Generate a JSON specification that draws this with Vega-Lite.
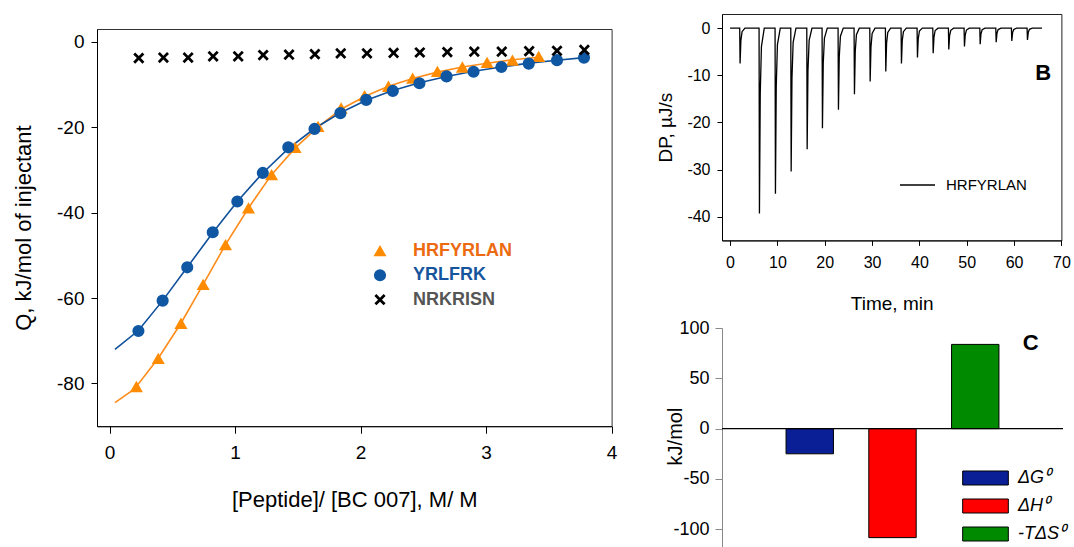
{
 "$schema": "https://vega.github.io/schema/vega-lite/v6.json",
 "padding": {"left": 12, "top": 13, "right": 0, "bottom": 0},
 "config": {
  "font": "Liberation Sans",
  "view": {"stroke": null},
  "axis": {"grid": false, "domainColor": "#000", "tickColor": "#000", "labelColor": "#000", "titleColor": "#000", "titleFontWeight": "normal", "labelFlush": false, "labelOverlap": false},
  "legend": {"padding": 0}
 },
 "datasets": {
  "pts": [
   {"s":"HRFYRLAN","x":0.214,"q":-80.7},{"s":"HRFYRLAN","x":0.388,"q":-74.1},{"s":"HRFYRLAN","x":0.569,"q":-65.9},{"s":"HRFYRLAN","x":0.746,"q":-56.8},{"s":"HRFYRLAN","x":0.924,"q":-47.5},{"s":"HRFYRLAN","x":1.107,"q":-38.9},{"s":"HRFYRLAN","x":1.291,"q":-31.1},{"s":"HRFYRLAN","x":1.478,"q":-24.7},{"s":"HRFYRLAN","x":1.661,"q":-19.8},{"s":"HRFYRLAN","x":1.845,"q":-15.5},{"s":"HRFYRLAN","x":2.032,"q":-12.6},{"s":"HRFYRLAN","x":2.222,"q":-10.4},{"s":"HRFYRLAN","x":2.415,"q":-8.5},{"s":"HRFYRLAN","x":2.612,"q":-6.9},{"s":"HRFYRLAN","x":2.811,"q":-5.9},{"s":"HRFYRLAN","x":3.008,"q":-4.8},{"s":"HRFYRLAN","x":3.21,"q":-4.3},{"s":"HRFYRLAN","x":3.419,"q":-3.4},
   {"s":"YRLFRK","x":0.23,"q":-67.7},{"s":"YRLFRK","x":0.423,"q":-60.6},{"s":"YRLFRK","x":0.619,"q":-52.8},{"s":"YRLFRK","x":0.822,"q":-44.6},{"s":"YRLFRK","x":1.018,"q":-37.4},{"s":"YRLFRK","x":1.221,"q":-30.7},{"s":"YRLFRK","x":1.424,"q":-24.7},{"s":"YRLFRK","x":1.633,"q":-20.4},{"s":"YRLFRK","x":1.839,"q":-16.7},{"s":"YRLFRK","x":2.045,"q":-13.6},{"s":"YRLFRK","x":2.257,"q":-11.5},{"s":"YRLFRK","x":2.469,"q":-9.7},{"s":"YRLFRK","x":2.685,"q":-8.1},{"s":"YRLFRK","x":2.9,"q":-7.0},{"s":"YRLFRK","x":3.122,"q":-5.9},{"s":"YRLFRK","x":3.34,"q":-5.1},{"s":"YRLFRK","x":3.565,"q":-4.3},{"s":"YRLFRK","x":3.78,"q":-3.7},
   {"s":"NRKRISN","x":0.233,"q":-3.8},{"s":"NRKRISN","x":0.429,"q":-3.7},{"s":"NRKRISN","x":0.626,"q":-3.7},{"s":"NRKRISN","x":0.825,"q":-3.4},{"s":"NRKRISN","x":1.025,"q":-3.4},{"s":"NRKRISN","x":1.224,"q":-3.1},{"s":"NRKRISN","x":1.43,"q":-3.0},{"s":"NRKRISN","x":1.636,"q":-2.9},{"s":"NRKRISN","x":1.842,"q":-2.7},{"s":"NRKRISN","x":2.051,"q":-2.7},{"s":"NRKRISN","x":2.263,"q":-2.6},{"s":"NRKRISN","x":2.472,"q":-2.5},{"s":"NRKRISN","x":2.691,"q":-2.4},{"s":"NRKRISN","x":2.906,"q":-2.3},{"s":"NRKRISN","x":3.125,"q":-2.3},{"s":"NRKRISN","x":3.343,"q":-2.2},{"s":"NRKRISN","x":3.565,"q":-2.1},{"s":"NRKRISN","x":3.783,"q":-1.9}
  ],
  "fitO": [
   {"x":0.043,"q":-84.5},{"x":0.163,"q":-82.0},{"x":0.214,"q":-80.7},{"x":0.388,"q":-74.1},{"x":0.569,"q":-65.9},{"x":0.746,"q":-56.8},{"x":0.924,"q":-47.5},{"x":1.107,"q":-38.9},{"x":1.291,"q":-31.1},{"x":1.478,"q":-24.9},{"x":1.661,"q":-19.9},{"x":1.845,"q":-15.8},{"x":2.032,"q":-12.8},{"x":2.222,"q":-10.4},{"x":2.415,"q":-8.6},{"x":2.612,"q":-7.1},{"x":2.811,"q":-5.9},{"x":3.008,"q":-5.0},{"x":3.21,"q":-4.2},{"x":3.419,"q":-3.6}
  ],
  "fitB": [
   {"x":0.043,"q":-72.0},{"x":0.23,"q":-67.6},{"x":0.423,"q":-60.6},{"x":0.619,"q":-52.8},{"x":0.822,"q":-44.7},{"x":1.018,"q":-37.4},{"x":1.221,"q":-30.7},{"x":1.424,"q":-25.0},{"x":1.633,"q":-20.3},{"x":1.839,"q":-16.6},{"x":2.045,"q":-13.7},{"x":2.257,"q":-11.4},{"x":2.469,"q":-9.6},{"x":2.685,"q":-8.1},{"x":2.9,"q":-6.9},{"x":3.122,"q":-5.9},{"x":3.34,"q":-5.0},{"x":3.565,"q":-4.3},{"x":3.78,"q":-3.7}
  ],
  "thermo": [
   {"t":0,"dp":0},
   {"t":2.04,"dp":0},{"t":2.12,"dp":-7.5},{"t":2.29,"dp":-2.6},{"t":2.54,"dp":-0.75},{"t":3.14,"dp":0},
   {"t":6.13,"dp":0},{"t":6.21,"dp":-39.3},{"t":6.38,"dp":-13.8},{"t":6.63,"dp":-3.9},{"t":7.23,"dp":0},
   {"t":9.51,"dp":0},{"t":9.59,"dp":-35.1},{"t":9.76,"dp":-12.3},{"t":10.01,"dp":-3.5},{"t":10.61,"dp":0},
   {"t":12.83,"dp":0},{"t":12.91,"dp":-30.4},{"t":13.08,"dp":-10.6},{"t":13.33,"dp":-3.0},{"t":13.93,"dp":0},
   {"t":16.21,"dp":0},{"t":16.29,"dp":-25.7},{"t":16.46,"dp":-9.0},{"t":16.71,"dp":-2.6},{"t":17.31,"dp":0},
   {"t":19.44,"dp":0},{"t":19.52,"dp":-21.2},{"t":19.69,"dp":-7.4},{"t":19.94,"dp":-2.1},{"t":20.54,"dp":0},
   {"t":22.82,"dp":0},{"t":22.9,"dp":-17.3},{"t":23.07,"dp":-6.1},{"t":23.32,"dp":-1.7},{"t":23.92,"dp":0},
   {"t":26.2,"dp":0},{"t":26.28,"dp":-14.0},{"t":26.45,"dp":-4.9},{"t":26.7,"dp":-1.4},{"t":27.3,"dp":0},
   {"t":29.52,"dp":0},{"t":29.6,"dp":-11.3},{"t":29.77,"dp":-4.0},{"t":30.02,"dp":-1.1},{"t":30.62,"dp":0},
   {"t":32.82,"dp":0},{"t":32.9,"dp":-9.2},{"t":33.07,"dp":-3.2},{"t":33.32,"dp":-0.9},{"t":33.92,"dp":0},
   {"t":36.13,"dp":0},{"t":36.21,"dp":-7.5},{"t":36.38,"dp":-2.6},{"t":36.63,"dp":-0.75},{"t":37.23,"dp":0},
   {"t":39.51,"dp":0},{"t":39.59,"dp":-6.2},{"t":39.76,"dp":-2.2},{"t":40.01,"dp":-0.6},{"t":40.61,"dp":0},
   {"t":42.83,"dp":0},{"t":42.91,"dp":-5.3},{"t":43.08,"dp":-1.9},{"t":43.33,"dp":-0.5},{"t":43.93,"dp":0},
   {"t":46.13,"dp":0},{"t":46.21,"dp":-4.5},{"t":46.38,"dp":-1.6},{"t":46.63,"dp":-0.45},{"t":47.23,"dp":0},
   {"t":49.44,"dp":0},{"t":49.52,"dp":-3.9},{"t":49.69,"dp":-1.4},{"t":49.94,"dp":-0.4},{"t":50.54,"dp":0},
   {"t":52.76,"dp":0},{"t":52.84,"dp":-3.4},{"t":53.01,"dp":-1.2},{"t":53.26,"dp":-0.35},{"t":53.86,"dp":0},
   {"t":56.14,"dp":0},{"t":56.22,"dp":-3.0},{"t":56.39,"dp":-1.05},{"t":56.64,"dp":-0.3},{"t":57.24,"dp":0},
   {"t":59.44,"dp":0},{"t":59.52,"dp":-2.7},{"t":59.69,"dp":-0.95},{"t":59.94,"dp":-0.27},{"t":60.54,"dp":0},
   {"t":62.75,"dp":0},{"t":62.83,"dp":-2.5},{"t":63.0,"dp":-0.9},{"t":63.25,"dp":-0.25},{"t":63.85,"dp":0},
   {"t":65.9,"dp":0}
  ],
  "energy": [
   {"k":"ΔG⁰","i":1,"v":-25.0},
   {"k":"ΔH⁰","i":2,"v":-108.3},
   {"k":"-TΔS⁰","i":3,"v":83.7}
  ]
 },
 "resolve": {"scale": {"color": "independent", "shape": "independent", "size": "independent"}, "legend": {"color": "independent", "shape": "independent"}},
 "hconcat": [
  {
   "bounds": "flush",
   "spacing": 0,
   "vconcat": [
    {"width": 514.6, "height": 15, "data": {"values": []}, "mark": "point", "encoding": {}},
    {
     "width": 514.6,
     "height": 397.2,
     "view": {"stroke": "#333"},
     "encoding": {
      "x": {"field": "x", "type": "quantitative", "scale": {"domain": [-0.1, 4], "nice": false, "zero": false},
            "axis": {"values": [0, 1, 2, 3, 4], "title": "[Peptide]/ [BC 007], M/ M", "labelFontSize": 19, "titleFontSize": 22, "tickSize": 7, "labelPadding": 10, "titlePadding": 27}},
      "y": {"field": "q", "type": "quantitative", "scale": {"domain": [-90, 3], "nice": false, "zero": false},
            "axis": {"values": [0, -20, -40, -60, -80], "labelExpr": "'' + datum.value", "title": "Q, kJ/mol of injectant", "labelFontSize": 19, "titleFontSize": 22, "tickSize": 6, "labelPadding": 7, "titlePadding": 21}}
     },
     "layer": [
      {"data": {"name": "fitO"}, "mark": {"type": "line", "color": "#FF8C1A", "strokeWidth": 1.6}},
      {"data": {"name": "fitB"}, "mark": {"type": "line", "color": "#10509A", "strokeWidth": 1.6}},
      {"data": {"name": "pts"},
       "mark": {"type": "point", "filled": true, "opacity": 1},
       "encoding": {
        "color": {"field": "s", "type": "nominal",
                  "scale": {"domain": ["HRFYRLAN", "YRLFRK", "NRKRISN"], "range": ["#FF8C00", "#0F57A3", "#000000"]},
                  "legend": {"orient": "none", "legendX": 274, "legendY": 227.7, "title": null, "symbolSize": 150, "symbolOpacity": 1,
                             "labelFontSize": 18, "labelFontWeight": "bold", "labelOffset": 24, "rowPadding": 6.5,
                             "encode": {"labels": {"update": {"fill": {"signal": "datum.value === 'HRFYRLAN' ? '#EC6A12' : datum.value === 'YRLFRK' ? '#16559E' : '#555555'"}}}}}},
        "shape": {"field": "s", "type": "nominal",
                  "scale": {"domain": ["HRFYRLAN", "YRLFRK", "NRKRISN"], "range": ["triangle-up", "circle", "M-1,-0.65L-0.65,-1L0,-0.35L0.65,-1L1,-0.65L0.35,0L1,0.65L0.65,1L0,0.35L-0.65,1L-1,0.65L-0.35,0Z"]}},
        "size": {"field": "s", "type": "nominal", "scale": {"domain": ["HRFYRLAN", "YRLFRK", "NRKRISN"], "range": [170, 125, 90]}, "legend": null}
       }},
      {"data": {"values": [{}]}, "mark": {"type": "text", "text": "A", "fontSize": 22, "fontWeight": "bold", "color": "#000"},
       "encoding": {"x": {"datum": 3.74, "type": "quantitative"}, "y": {"datum": -14.3, "type": "quantitative"}}}
     ]
    }
   ]
  },
  {
   "bounds": "flush",
   "spacing": 87,
   "resolve": {"scale": {"color": "independent"}, "legend": {"color": "independent"}},
   "vconcat": [
    {
     "width": 339.4,
     "height": 226.4,
     "view": {"stroke": "#222"},
     "layer": [
      {"data": {"name": "thermo"},
       "mark": {"type": "line", "strokeWidth": 1.3},
       "encoding": {
        "x": {"field": "t", "type": "quantitative", "scale": {"domain": [-1.7, 70], "nice": false, "zero": false},
              "axis": {"values": [0, 10, 20, 30, 40, 50, 60, 70], "title": "Time, min", "labelFontSize": 16, "titleFontSize": 19, "tickSize": 5, "labelPadding": 9, "titlePadding": 24}},
        "y": {"field": "dp", "type": "quantitative", "scale": {"domain": [-45, 3], "nice": false, "zero": false},
              "axis": {"values": [0, -10, -20, -30, -40], "labelExpr": "'' + datum.value", "title": "DP, µJ/s", "labelFontSize": 16, "titleFontSize": 19, "tickSize": 5, "labelPadding": 7, "titlePadding": 11}},
        "color": {"datum": "HRFYRLAN", "type": "nominal", "scale": {"range": ["#000000"]},
                  "legend": {"orient": "none", "legendX": 177, "legendY": 152.5, "title": null, "symbolType": "stroke", "symbolSize": 1225, "symbolStrokeWidth": 1.3, "labelFontSize": 15, "labelOffset": 10}}
       }},
      {"data": {"values": [{}]}, "mark": {"type": "text", "text": "B", "fontSize": 22, "fontWeight": "bold", "color": "#000"},
       "encoding": {"x": {"datum": 66.15, "type": "quantitative"}, "y": {"datum": -9.6, "type": "quantitative"}}}
     ]
    },
    {
     "width": 341,
     "height": 219.4,
     "layer": [
      {"data": {"name": "energy"},
       "mark": {"type": "bar", "orient": "vertical", "size": 47.4, "stroke": "#000", "strokeWidth": 1},
       "encoding": {
        "x": {"field": "i", "type": "quantitative", "scale": {"domain": [0, 4], "nice": false, "zero": false}, "axis": null},
        "y": {"field": "v", "type": "quantitative", "scale": {"domain": [-118, 100], "nice": false},
              "axis": {"values": [100, 50, 0, -50, -100], "labelExpr": "'' + datum.value", "title": "kJ/mol", "labelFontSize": 18, "titleFontSize": 20, "tickSize": 7, "labelPadding": 6, "domainColor": "#888", "tickColor": "#888", "titleX": -47, "titleY": 108, "titleBaseline": "middle"}},
        "color": {"field": "k", "type": "nominal",
                  "scale": {"domain": ["ΔG⁰", "ΔH⁰", "-TΔS⁰"], "range": ["#0A1E96", "#FF0000", "#008A00"]},
                  "legend": {"orient": "none", "legendX": 254.5, "legendY": 141, "title": null, "symbolType": "M-3.26,-1H3.26V1H-3.26Z", "symbolSize": 196, "symbolStrokeColor": "#000", "symbolStrokeWidth": 1, "symbolOpacity": 1,
                             "labelFontSize": 18, "labelFontStyle": "italic", "labelOffset": 23.5, "rowPadding": 10}}
       }},
      {"data": {"values": [{}]}, "mark": {"type": "rule", "color": "#000", "strokeWidth": 1.2},
       "encoding": {"y": {"datum": 0, "type": "quantitative"}}},
      {"data": {"values": [{}]}, "mark": {"type": "text", "text": "C", "fontSize": 22, "fontWeight": "bold", "color": "#000"},
       "encoding": {"x": {"datum": 3.67, "type": "quantitative"}, "y": {"datum": 85.5, "type": "quantitative"}}}
     ]
    }
   ]
  }
 ],
 "spacing": 38
}
